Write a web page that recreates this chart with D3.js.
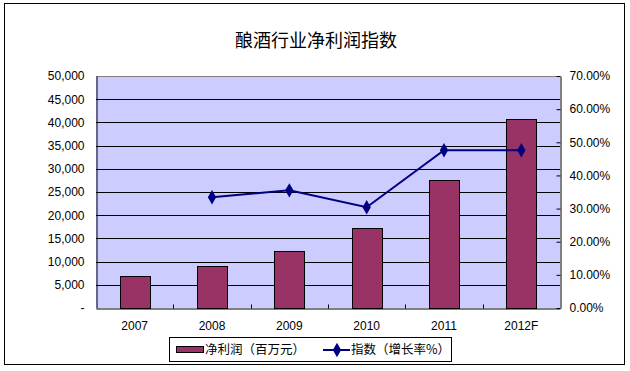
<!DOCTYPE html>
<html>
<head>
<meta charset="utf-8">
<script src="https://cdn.jsdelivr.net/npm/d3@7"></script>
<style>
  body { margin: 0; background: #fff; }
  svg { display: block; }
  text { font-family: Arial, "Liberation Sans", sans-serif; }
  .cjk { font-family: "Noto Sans CJK SC", sans-serif; }
</style>
</head>
<body>
<div id="chart"></div>
<script>
const years = ['2007', '2008', '2009', '2010', '2011', '2012F'];
const profit = [6800, 9000, 12200, 17150, 27500, 40650];
const growth = [null, 33.4, 35.5, 30.4, 47.6, 47.6];
const leftTicks = d3.range(0, 50001, 5000);
const rightTicks = d3.range(0, 71, 10);

const W = 630, H = 371;
const m = { left: 96, right: 560, top: 76, bottom: 308 };

const svg = d3.select('#chart').append('svg')
  .attr('width', W)
  .attr('height', H);

svg.append('rect')
  .attr('x', 4.5).attr('y', 3.5)
  .attr('width', 620).attr('height', 361)
  .attr('fill', '#fff')
  .attr('stroke', '#000');

svg.append('text')
  .attr('class', 'cjk')
  .attr('x', 316).attr('y', 47)
  .attr('text-anchor', 'middle')
  .attr('font-size', '18px')
  .text('酿酒行业净利润指数');

const x = d3.scaleBand()
  .domain(years)
  .range([m.left, m.right])
  .paddingInner(0.61)
  .paddingOuter(0.305);

const y = d3.scaleLinear().domain([0, 50000]).range([m.bottom, m.top]);
const y2 = d3.scaleLinear().domain([0, 70]).range([m.bottom, m.top]);

// plot area
svg.append('rect')
  .attr('x', m.left).attr('y', m.top)
  .attr('width', m.right - m.left).attr('height', m.bottom - m.top)
  .attr('fill', '#CCCCFF');

// gridlines
svg.append('g')
  .selectAll('line')
  .data(leftTicks.slice(1, -1))
  .join('line')
  .attr('x1', m.left).attr('x2', m.right)
  .attr('y1', d => Math.round(y(d)) + 0.5)
  .attr('y2', d => Math.round(y(d)) + 0.5)
  .attr('stroke', '#000');

// top border in gray
svg.append('line')
  .attr('x1', m.left).attr('x2', m.right)
  .attr('y1', m.top + 0.5).attr('y2', m.top + 0.5)
  .attr('stroke', '#808080');

// bars
svg.append('g')
  .selectAll('rect')
  .data(profit)
  .join('rect')
  .attr('x', (d, i) => Math.round(x(years[i])) + 0.5)
  .attr('y', d => Math.round(y(d)) + 0.5)
  .attr('width', Math.round(x.bandwidth()))
  .attr('height', d => m.bottom - Math.round(y(d)))
  .attr('fill', '#993366')
  .attr('stroke', '#000');

// left axis
const leftAxis = svg.append('g')
  .attr('transform', `translate(${m.left + 0.5},0)`)
  .call(d3.axisLeft(y).tickValues(leftTicks).tickSize(0).tickPadding(12)
    .tickFormat(d => d === 0 ? '-' : d3.format(',')(d)));
leftAxis.select('.domain').attr('stroke', '#000');
leftAxis.selectAll('text').attr('font-size', '12px').attr('fill', '#000')
  .attr('font-family', 'Arial, "Liberation Sans", sans-serif');

// right axis
const rightAxis = svg.append('g')
  .attr('transform', `translate(${m.right + 0.5},0)`)
  .call(d3.axisRight(y2).tickValues(rightTicks).tickSizeInner(-4).tickSizeOuter(0).tickPadding(9)
    .tickFormat(d => d.toFixed(2) + '%'));
rightAxis.select('.domain').attr('stroke', '#000');
rightAxis.selectAll('line').attr('stroke', '#000');
rightAxis.selectAll('text').attr('font-size', '12px').attr('fill', '#000')
  .attr('font-family', 'Arial, "Liberation Sans", sans-serif');

// bottom axis
const step = x.step();
const bottomAxis = svg.append('g')
  .attr('transform', `translate(0,${m.bottom + 0.5})`)
  .call(d3.axisBottom(x).tickSize(0).tickPadding(13));
bottomAxis.select('.domain').attr('stroke', '#000');
bottomAxis.selectAll('text').attr('font-size', '12px').attr('fill', '#000')
  .attr('font-family', '"DejaVu Sans Mono", "Liberation Mono", monospace');
bottomAxis.append('g')
  .selectAll('line')
  .data(years.slice(1))
  .join('line')
  .attr('x1', d => Math.round(x(d) - x.bandwidth() * 0 - (step - x.bandwidth()) / 2) + 0.5)
  .attr('x2', d => Math.round(x(d) - (step - x.bandwidth()) / 2) + 0.5)
  .attr('y1', 0).attr('y2', -4)
  .attr('stroke', '#000');

// growth line
const pts = growth.map((g, i) => ({ k: years[i], v: g })).filter(p => p.v !== null);
const line = d3.line()
  .x(d => x(d.k) + x.bandwidth() / 2)
  .y(d => y2(d.v));
svg.append('path')
  .datum(pts)
  .attr('d', line)
  .attr('fill', 'none')
  .attr('stroke', '#000080')
  .attr('stroke-width', 2);

const diamond = d3.symbol().type(d3.symbolDiamond).size(60);
svg.append('g')
  .selectAll('path')
  .data(pts)
  .join('path')
  .attr('transform', d => `translate(${x(d.k) + x.bandwidth() / 2},${y2(d.v)})`)
  .attr('d', diamond)
  .attr('fill', '#000080');

// legend
const lg = svg.append('g');
lg.append('rect')
  .attr('x', 169.5).attr('y', 337.5)
  .attr('width', 282).attr('height', 24)
  .attr('fill', '#fff').attr('stroke', '#000');
lg.append('rect')
  .attr('x', 176.5).attr('y', 346.5)
  .attr('width', 27).attr('height', 6)
  .attr('fill', '#993366').attr('stroke', '#000');
lg.append('text')
  .attr('class', 'cjk')
  .attr('x', 205).attr('y', 354)
  .attr('font-size', '12.5px')
  .text('净利润（百万元）');
lg.append('line')
  .attr('x1', 323).attr('x2', 350)
  .attr('y1', 350).attr('y2', 350)
  .attr('stroke', '#000080').attr('stroke-width', 2);
lg.append('path')
  .attr('transform', 'translate(337,350)')
  .attr('d', diamond)
  .attr('fill', '#000080');
lg.append('text')
  .attr('class', 'cjk')
  .attr('x', 351).attr('y', 354)
  .attr('font-size', '12.5px')
  .text('指数（增长率%）');
</script>
</body>
</html>
